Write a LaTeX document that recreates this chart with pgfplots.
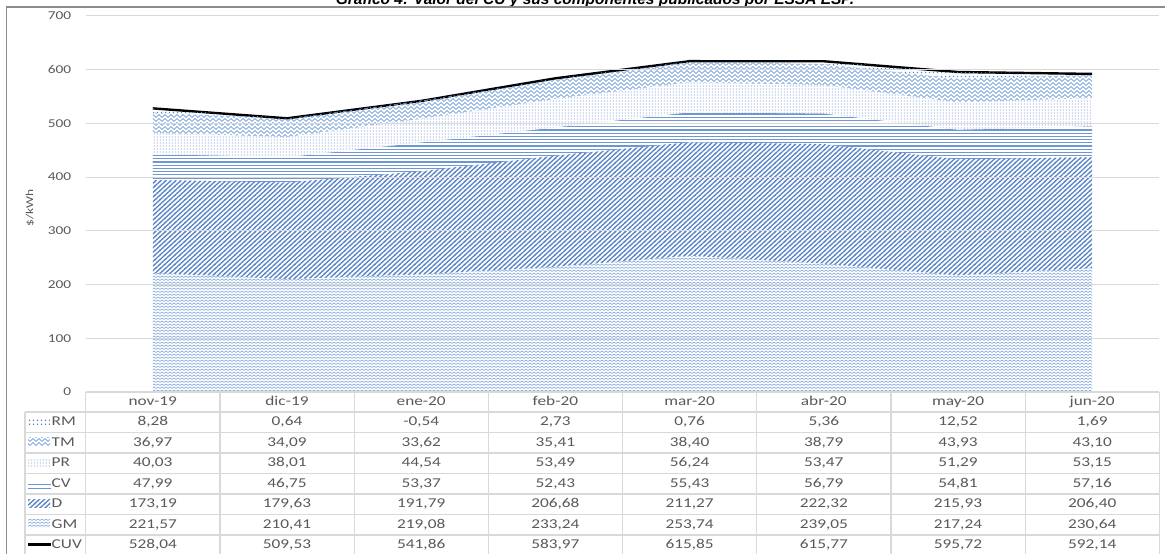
\documentclass[border=0pt]{standalone}
\usepackage{pgfplots}
\pgfplotsset{compat=1.18}
\usepackage{pgfplotstable}
\usetikzlibrary{patterns}
\usepackage{fontspec}
\setmainfont{Carlito}[FakeStretch=1.28]
\newfontfamily\titlefont{Liberation Sans}

\definecolor{txt}{HTML}{595959}
\definecolor{gridc}{HTML}{D9D9D9}
\definecolor{framec}{HTML}{8C8C8C}
\definecolor{cGM}{HTML}{7FA3D9}
\definecolor{cD}{HTML}{5A86C8}
\definecolor{cCV}{HTML}{6E96D2}
\definecolor{cPR}{HTML}{8EABDD}
\definecolor{cTM}{HTML}{86A9DD}
\definecolor{cRM}{HTML}{5B85C5}

% patterns, roughly the Excel fills
\pgfdeclarepatternformonly{gmwave}{\pgfqpoint{-1pt}{-1pt}}{\pgfqpoint{5pt}{4pt}}{\pgfqpoint{4pt}{3pt}}{
  \pgfsetlinewidth{0.6pt}
  \pgfpathmoveto{\pgfqpoint{0pt}{0.5pt}}
  \pgfpathlineto{\pgfqpoint{2pt}{2pt}}
  \pgfpathlineto{\pgfqpoint{4pt}{0.5pt}}
  \pgfusepath{stroke}
}
\pgfdeclarepatternformonly{dstripe}{\pgfqpoint{-1pt}{-1pt}}{\pgfqpoint{6pt}{5.6pt}}{\pgfqpoint{5pt}{4.6pt}}{
  \pgfsetlinewidth{1.3pt}
  \pgfpathmoveto{\pgfqpoint{-0.6pt}{-0.55pt}}
  \pgfpathlineto{\pgfqpoint{5.6pt}{5.15pt}}
  \pgfusepath{stroke}
}
\pgfdeclarepatternformonly{cvlines}{\pgfqpoint{-1pt}{0pt}}{\pgfqpoint{5pt}{3.2pt}}{\pgfqpoint{4pt}{3.2pt}}{
  \pgfsetlinewidth{1.25pt}
  \pgfpathmoveto{\pgfqpoint{-1pt}{1.6pt}}
  \pgfpathlineto{\pgfqpoint{5pt}{1.6pt}}
  \pgfusepath{stroke}
}
\pgfdeclarepatternformonly{prdots}{\pgfqpoint{0pt}{0pt}}{\pgfqpoint{3pt}{2.5pt}}{\pgfqpoint{3pt}{2.5pt}}{
  \pgfpathrectangle{\pgfqpoint{1pt}{0.5pt}}{\pgfqpoint{1pt}{1.4pt}}
  \pgfusepath{fill}
}
\pgfdeclarepatternformonly{tmzig}{\pgfqpoint{-1pt}{-1pt}}{\pgfqpoint{7pt}{5pt}}{\pgfqpoint{6pt}{4pt}}{
  \pgfsetlinewidth{0.9pt}
  \pgfpathmoveto{\pgfqpoint{0pt}{0.5pt}}
  \pgfpathlineto{\pgfqpoint{3pt}{3.5pt}}
  \pgfpathlineto{\pgfqpoint{6pt}{0.5pt}}
  \pgfusepath{stroke}
}
\pgfdeclarepatternformonly{rmdots}{\pgfqpoint{0pt}{0pt}}{\pgfqpoint{4pt}{4pt}}{\pgfqpoint{4pt}{4pt}}{
  \pgfpathrectangle{\pgfqpoint{1pt}{1pt}}{\pgfqpoint{1.6pt}{1.6pt}}
  \pgfusepath{fill}
}

\pgfplotstableread{
x  RM    TM    PR    CV    D      GM     CUV
0  8.28  36.97 40.03 47.99 173.19 221.57 528.04
1  0.64  34.09 38.01 46.75 179.63 210.41 509.53
2  -0.54 33.62 44.54 53.37 191.79 219.08 541.86
3  2.73  35.41 53.49 52.43 206.68 233.24 583.97
4  0.76  38.40 56.24 55.43 211.27 253.74 615.85
5  5.36  38.79 53.47 56.79 222.32 239.05 615.77
6  12.52 43.93 51.29 54.81 215.93 217.24 595.72
7  1.69  43.10 53.15 57.16 206.40 230.64 592.14
}\data

\newcommand\tblfont{\fontsize{13.5}{14}\selectfont}

\begin{document}
\begin{tikzpicture}[x=1pt,y=1pt]
  \begin{axis}[
      at={(85.7pt,162pt)}, anchor=south west,
      scale only axis, width=1073.6pt, height=376pt,
      xmin=-0.5, xmax=7.5, ymin=0, ymax=700,
      axis line style={draw=none},
      major tick style={draw=none},
      xtick=\empty,
      ytick={0,100,...,700},
      ymajorgrids,
      grid style={gridc, line width=1pt},
      yticklabel style={font=\fontsize{12}{12}\selectfont, text=txt, xshift=-11pt},
      /pgf/number format/assume math mode=true,
      stack plots=y,
      area style,
    ]
    \addplot[draw=none, mark=none, pattern=gmwave, pattern color=cGM] table[x=x,y=GM]{\data} \closedcycle;
    \addplot[draw=none, mark=none, pattern=dstripe, pattern color=cD] table[x=x,y=D]{\data} \closedcycle;
    \addplot[draw=none, mark=none, pattern=cvlines, pattern color=cCV] table[x=x,y=CV]{\data} \closedcycle;
    \addplot[draw=none, mark=none, pattern=prdots, pattern color=cPR] table[x=x,y=PR]{\data} \closedcycle;
    \addplot[draw=none, mark=none, pattern=tmzig, pattern color=cTM] table[x=x,y=TM]{\data} \closedcycle;
    \addplot[draw=none, mark=none, pattern=rmdots, pattern color=cRM] table[x=x,y=RM]{\data} \closedcycle;
    \addplot[stack plots=false, mark=none, black, line width=2.4pt] table[x=x,y=CUV]{\data};
  \end{axis}

  % title (cut by the top edge, as in the source) and outer frame
  \node[anchor=base, inner sep=0pt, font=\titlefont\bfseries\itshape\fontsize{15.5}{16}\selectfont]
    at (595,549.6) {Gráfico 4: Valor del CU y sus componentes publicados por ESSA ESP.};
  \draw[framec, line width=1.3pt] (6.7,-5) -- (6.7,547) -- (1170,547);

  % y label
  \node[rotate=90, text=txt, font=\fontsize{10.5}{11}\selectfont] at (30,346) {\$/kWh};

  % data table grid
  \begin{scope}[gridc, line width=1.2pt]
    \draw (85.7,162) -- (1159.3,162);
    \foreach \ty in {412,432.5,453,473.5,494,514.5,535}
      \draw (25,554-\ty) -- (1159.3,554-\ty);
    \draw (25,142) -- (25,-5);
    \foreach \k in {0,...,8}
      \draw ({85.7+134.2*\k},162) -- ({85.7+134.2*\k},-5);
  \end{scope}

  % header row
  \foreach \m [count=\k from 0] in {nov-19,dic-19,ene-20,feb-20,mar-20,abr-20,may-20,jun-20}
    \node[anchor=base, text=txt, font=\tblfont, inner sep=0pt] at ({85.7+134.2*(\k+0.5)},148) {\m};

  % values
  \foreach \c [count=\i from 0] in {RM,TM,PR,CV,D,GM,CUV} {
    \node[anchor=base west, text=txt, font=\tblfont, inner sep=0pt] at (51.5,{128-20.5*\i}) {\c};
    \foreach \k in {0,...,7} {
      \pgfplotstablegetelem{\k}{\c}\of\data
      \node[anchor=base, text=txt, font=\tblfont, inner sep=0pt] at ({85.7+134.2*(\k+0.5)},{128-20.5*\i})
        {\pgfmathprintnumber[fixed, fixed zerofill, precision=2, use comma, assume math mode=true]{\pgfplotsretval}};
    }
  }

  % legend keys
  \fill[pattern=rmdots, pattern color=cRM] (28,129.5) rectangle (50,135);
  \fill[pattern=tmzig, pattern color=cTM] (28,108) rectangle (50,116);
  \fill[pattern=prdots, pattern color=cPR] (28,87.5) rectangle (50,95.5);
  \draw[cCV, line width=1.2pt] (28,69.5) -- (51,69.5) (28,65.5) -- (51,65.5);
  \fill[pattern=dstripe, pattern color=cD] (28,46.5) rectangle (50,54.5);
  \fill[pattern=gmwave, pattern color=cGM] (28,26) rectangle (50,34);
  \draw[black, line width=2.4pt] (28,9.3) -- (51,9.3);

  \pgfresetboundingbox
  \path[use as bounding box] (0,0) rectangle (1165,554);
\end{tikzpicture}
\end{document}
